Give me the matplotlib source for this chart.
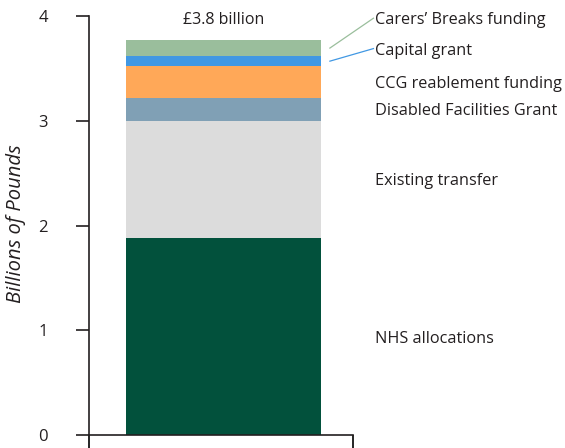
import numpy as np
import matplotlib.pyplot as plt
import matplotlib.transforms as mtransforms

plt.rcParams['font.family'] = ['Open Sans', 'DejaVu Sans']

labels = ['NHS allocations', 'Existing transfer', 'Disabled Facilities Grant',
          'CCG reablement funding', 'Capital grant', 'Carers\u2019 Breaks funding']
values = [1.88, 1.12, 0.22, 0.3, 0.1, 0.15]
colors = ['#02513c', '#dcdcdc', '#80a0b5', '#ffa858', '#4198e3', '#9abe9c']
total_label = '\u00a33.8 billion'

fig = plt.figure(figsize=(5.65, 4.48), dpi=100)
ax = fig.add_axes([0.1575, 0.029, 0.467, 0.935])

bottoms = np.concatenate([[0], np.cumsum(values)[:-1]])
for v, b, c in zip(values, bottoms, colors):
    ax.bar(0.01, v, bottom=b, width=0.74, color=c, linewidth=0)

ax.set_xlim(-0.5, 0.5)
ax.set_ylim(0, 4)
ax.set_yticks([0, 1, 2, 3, 4])
ax.set_xticks([-0.5, 0.5])
ax.set_xticklabels([])
ax.tick_params(axis='y', direction='out', length=9.5, width=1.2, pad=20,
               labelsize=12, colors='#231f20')
ax.tick_params(axis='x', direction='out', length=9.5, width=1.2)
for s in ['top', 'right']:
    ax.spines[s].set_visible(False)
for s in ['left', 'bottom']:
    ax.spines[s].set_linewidth(1.2)
    ax.spines[s].set_color('#231f20')
ax.set_ylabel('Billions of Pounds', fontsize=14.5, style='italic', color='#231f20')
ax.yaxis.set_label_coords(-0.24, 0.505)

# labels on the right
trans = mtransforms.blended_transform_factory(ax.transAxes, ax.transData)
mids = bottoms + np.array(values) / 2
label_y = list(mids[:4]) + [3.69, 3.98]
for i, (lab, y) in enumerate(zip(labels, label_y)):
    ax.text(1.085, y, lab, transform=trans, fontsize=11.7, va='center_baseline',
            ha='left', color='#231f20', clip_on=False)

# leader lines for thin segments
ax.plot([0.913, 1.078], [mids[4], 3.69], transform=trans, color=colors[4],
        lw=0.9, clip_on=False)
ax.plot([0.913, 1.078], [mids[5], 3.98], transform=trans, color=colors[5],
        lw=0.9, clip_on=False)

ax.text(0.01, 3.98, total_label, ha='center', va='center_baseline', fontsize=11.5,
        color='#231f20')

fig.savefig('out.png', dpi=100)
